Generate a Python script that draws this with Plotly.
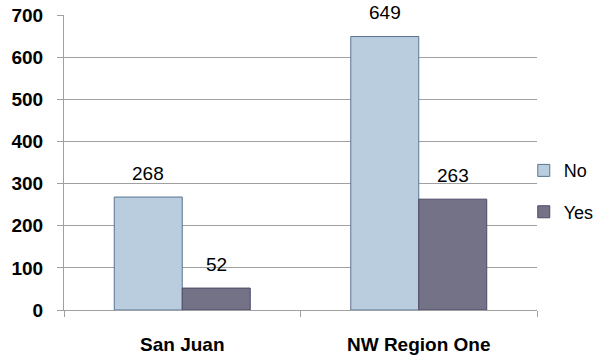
import plotly.graph_objects as go

categories = ["San Juan", "NW Region One"]
no_values = [268, 649]
yes_values = [52, 263]
y_ticks = [0, 100, 200, 300, 400, 500, 600, 700]

W, H = 593, 360
ML, MR, MT, MB = 64, 56, 15, 50
BARGAP = 0.425
FONT = "Liberation Sans, Arial"

fig = go.Figure()
fig.add_trace(go.Bar(
    name="No", x=categories, y=no_values, legendgroup="no",
    marker=dict(color="#B9CDDF", line=dict(color="#5B7391", width=1)),
))
fig.add_trace(go.Bar(
    name="Yes", x=categories, y=yes_values, legendgroup="yes",
    marker=dict(color="#747286", line=dict(color="#4F4868", width=1)),
))

# data labels above each bar
cat_px = (W - ML - MR) / len(categories)
bar_px = cat_px * (1 - BARGAP) / 2
for series, sign in ((no_values, -1), (yes_values, 1)):
    for cat, v in zip(categories, series):
        fig.add_annotation(
            x=cat, y=v, xref="x", yref="y", text=str(v), showarrow=False,
            yanchor="bottom", xanchor="center", xshift=sign * bar_px / 2, yshift=11,
            font=dict(family=FONT, size=19, color="#000000"),
        )

fig.update_layout(
    width=W, height=H,
    margin=dict(l=ML, r=MR, t=MT, b=MB, autoexpand=False),
    paper_bgcolor="white", plot_bgcolor="white",
    barmode="group", bargap=BARGAP, bargroupgap=0,
    font=dict(family=FONT, color="#000000"),
    legend=dict(
        x=0.972, xanchor="left", y=0.535, yanchor="top",
        font=dict(size=18, color="#000000"),
        itemwidth=30, tracegroupgap=15, bgcolor="rgba(0,0,0,0)",
    ),
    xaxis=dict(
        showline=True, linecolor="#A0A0A0", linewidth=1,
        ticks="outside", tickson="boundaries", ticklen=6, tickcolor="#A0A0A0",
        tickfont=dict(size=19, family=FONT, weight="bold"),
        ticklabelstandoff=17, showgrid=False,
    ),
    yaxis=dict(
        range=[0, 700], tickvals=y_ticks,
        showline=True, linecolor="#A0A0A0", linewidth=1,
        ticks="outside", ticklen=6, tickcolor="#A0A0A0",
        showgrid=True, gridcolor="#A0A0A0", gridwidth=1,
        zeroline=False,
        tickfont=dict(size=19, family=FONT, weight="bold"),
        ticklabelstandoff=10,
    ),
)

fig.write_html("out.html", config={"displayModeBar": False},
               post_script="document.body.style.margin='0';")
